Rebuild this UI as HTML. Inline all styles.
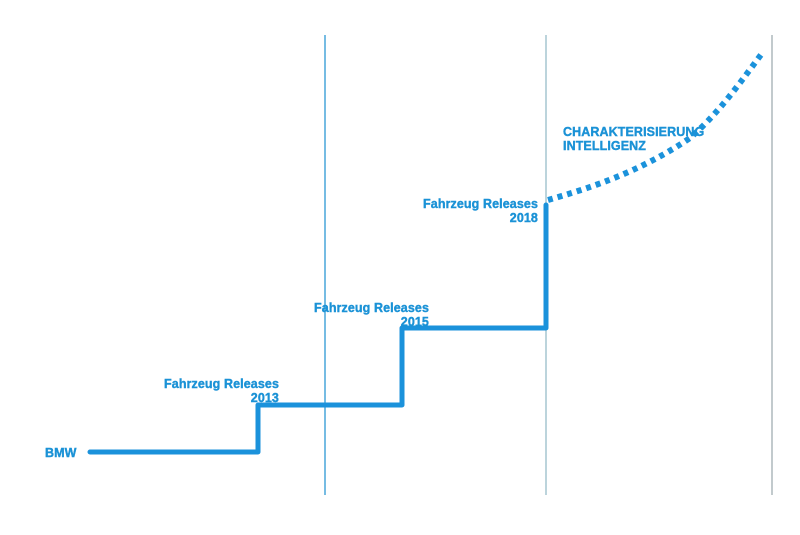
<!DOCTYPE html>
<html><head><meta charset="utf-8"><style>
body{margin:0;background:#fff;}
svg text{font-family:"Liberation Sans",sans-serif;font-weight:bold;font-size:12.5px;fill:#1b92d6;letter-spacing:0.1px;stroke:#1b92d6;stroke-width:0.4}
</style></head><body>
<svg width="800" height="530" xmlns="http://www.w3.org/2000/svg">
<line x1="325" y1="35" x2="325" y2="495" stroke="#1b8fd0" stroke-width="1.2"/>
<line x1="546" y1="35" x2="546" y2="495" stroke="#8fb8c4" stroke-width="1.2"/>
<line x1="772" y1="35" x2="772" y2="495" stroke="#9aa6ac" stroke-width="1.2"/>
<polyline points="90,452 258,452 258,405 402,405 402,328 546,328 546,205" fill="none" stroke="#1b92db" stroke-width="5" stroke-linecap="round" stroke-linejoin="round"/>
<path d="M548,200 C590,188 640,172 690,138 C720,112 742,80 763,52" fill="none" stroke="#1b92db" stroke-width="6" stroke-dasharray="5,5"/>
<text x="45" y="457">BMW</text>
<text x="279" y="388" text-anchor="end">Fahrzeug Releases</text>
<text x="279" y="402" text-anchor="end">2013</text>
<text x="429" y="312" text-anchor="end">Fahrzeug Releases</text>
<text x="429" y="326" text-anchor="end">2015</text>
<text x="538" y="208" text-anchor="end">Fahrzeug Releases</text>
<text x="538" y="222" text-anchor="end">2018</text>
<text x="563" y="136">CHARAKTERISIERUNG</text>
<text x="563" y="150">INTELLIGENZ</text>
</svg>
</body></html>
